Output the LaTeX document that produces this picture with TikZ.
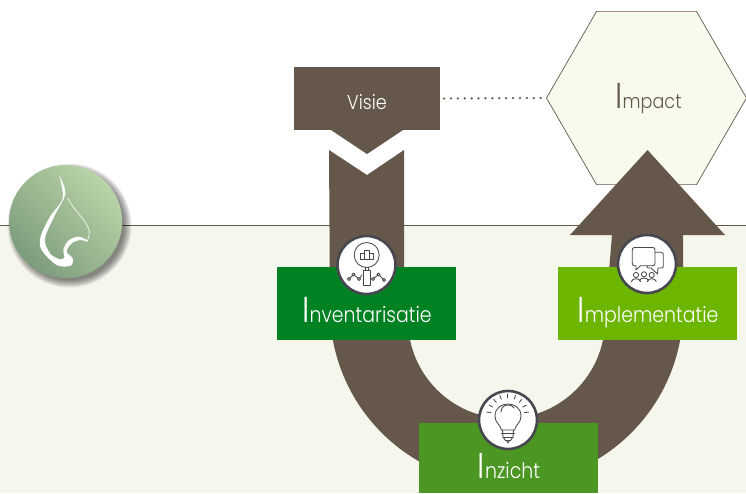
\documentclass[tikz,border=0pt]{standalone}
\usepackage{fontspec}
\setmainfont[FakeStretch=0.88,UprightFont=* Light]{Poppins}
\usetikzlibrary{shapes.geometric}
\definecolor{brn}{HTML}{65574A}
\definecolor{pale}{HTML}{F5F6EC}
\definecolor{hexf}{HTML}{F7FAED}
\definecolor{ink}{HTML}{47474F}
\definecolor{gA}{HTML}{008223}
\definecolor{gB}{HTML}{6DB600}
\definecolor{gC}{HTML}{4C9724}
\definecolor{logoA}{RGB}{125,155,125}
\definecolor{logoB}{RGB}{186,212,168}
\newcommand{\bigI}{{\fontsize{36}{36}\selectfont I}}
\tikzset{
  x=1pt,y=-1pt,
  label/.style={anchor=base,inner sep=0pt,text=white,font=\fontsize{21.5}{24}\selectfont},
  badge/.style={circle,draw=ink,line width=2.6pt,fill=white,minimum size=58pt,inner sep=0pt},
  icon/.style={draw=ink,line width=0.85pt,line cap=round,line join=round},
}
\begin{document}
\begin{tikzpicture}
\useasboundingbox (0,0) rectangle (746,493);
\fill[white] (0,0) rectangle (746,225);
\fill[pale] (0,225) rectangle (746,493);
\coordinate (hl) at (0,225); \coordinate (hr) at (746,225);
\draw[brn,line width=0.8pt] (hl) -- (hr);
% impact hexagon
\node[regular polygon,regular polygon sides=6,draw=brn,fill=hexf,line width=0.7pt,minimum size=200pt,inner sep=0pt] (impact) at (646.5,98) {};
\node[label,text=brn,font=\fontsize{20}{24}\selectfont] (impacttext) at (648.5,108) {\bigI mpact};
% U arrow
\fill[brn] (329,150) -- (367,175) -- (404,150) -- (404,300) -- (408,320)
  arc[start angle=180,delta angle=180,radius=98.5pt]
  -- (612,235) -- (570,235) -- (647.5,150) -- (725,235) -- (683,235) -- (683,308)
  arc[start angle=0,delta angle=-180,radius=176.5pt]
  -- cycle;
% visie
\fill[brn] (294,67) rectangle (440,130);
\fill[brn] (331,130) -- (367,154) -- (403,130) -- cycle;
\node[minimum width=146pt,minimum height=63pt,inner sep=0pt,outer sep=0pt] (visie) at (367,98.5) {};
\node[label,font=\fontsize{20}{24}\selectfont] (visietext) at (367,109) {Visie};
\draw[brn,line width=2.4pt,line cap=round,dash pattern=on 0.1pt off 6.8pt,shorten >=4pt,shorten <=4pt] (visie.east) -- (impact.west);
% phases
\fill[gA] (277,267) rectangle (456,340);
\node[label] (inv) at (367,322) {\bigI nventarisatie};
\fill[gB] (558,267) rectangle (737,340);
\node[label] (imp) at (648,322) {\bigI mplementatie};
\fill[gC] (419,423) rectangle (598,493);
\node[label] (inz) at (509,478) {\bigI nzicht};
% badges
\node[badge] (b1) at (366.5,265) {};
\node[badge] (b2) at (647,264) {};
\node[badge] (b3) at (508,420) {};
% icon 1: magnifier
\draw[icon] (366.7,255) circle[radius=12.5pt];
\draw[icon] (360,259) rectangle (364.5,253);
\draw[icon] (364.5,259) rectangle (369,250);
\draw[icon] (369,259) rectangle (373.5,253);
\draw[icon] (365,267.5) -- (365,270) (368.5,267.5) -- (368.5,270);
\draw[icon] (363.5,270) rectangle (370,285.5);
\draw[icon] (349,279) -- (353.5,274.5) -- (359,279) -- (362,275);
\draw[icon] (373,279) -- (378.5,274.5) -- (384,280);
\foreach \px/\py in {349/279,353.5/274.5,359/279,373/279,378.5/274.5,384/280}
  \draw[icon,fill=white] (\px,\py) circle[radius=1.5pt];
% icon 2: bubbles
\draw[icon] (634.5,247.5) -- (652.5,247.5) .. controls (654.5,247.5) and (655,248.5) .. (655,250) -- (655,263) .. controls (655,265) and (654.5,265.7) .. (652.5,265.7) -- (640.5,265.7) -- (636,270) -- (636,265.7) -- (634.5,265.7) .. controls (633,265.7) and (632.3,265) .. (632.3,263) -- (632.3,250) .. controls (632.3,248.5) and (633,247.5) .. (634.5,247.5) -- cycle;
\draw[icon] (655,252.3) -- (661.5,252.3) .. controls (662.8,252.3) and (663.3,253) .. (663.3,254) -- (663.3,266) .. controls (663.3,267.5) and (662.8,268) .. (661.5,268) -- (658,268) -- (657.5,274) -- (651,268) -- (648,268) -- (646.7,266);
\foreach \hx/\hy in {636/275,644/274.3,651.7/275}{
  \draw[icon] (\hx,\hy) circle[radius=2.6pt];
  \draw[icon] (\hx-4.5,\hy+6.5) .. controls (\hx-4,\hy+2.8) and (\hx+4,\hy+2.8) .. (\hx+4.5,\hy+6.5);
}
% icon 3: bulb
\draw[icon] (501.5,430) .. controls (500,424) and (495,423) .. (495,416) .. controls (495,400) and (521,400) .. (521,416) .. controls (521,423) and (516,424) .. (514.5,430) -- cycle;
\draw[icon] (501,412) .. controls (501,406) and (506,405) .. (508,405) .. controls (511,405) and (513,406) .. (514,408);
\draw[icon] (501.5,433.5) -- (514.5,433.5);
\draw[icon] (502.5,430) -- (503,437) -- (505.5,440.5) -- (510.5,440.5) -- (513,437) -- (513.5,430);
\draw[icon] (503,437) -- (513,437);
\draw[icon] (506.5,440.5) -- (508,443) -- (509.5,440.5);
\foreach \a in {172,152,132,112,90,68,48,28,8}
  \draw[icon] ([shift={(\a:17pt)}]507.7,415) -- ([shift={(\a:21pt)}]507.7,415);
% logo
\foreach \r in {62,61,...,55}
  \fill[black,opacity=0.07] (69.5,225.5) circle[radius=\r pt];
\shade[top color=logoA,bottom color=logoB,shading angle=135] (65.6,221.6) circle[radius=56.5pt];
\begin{scope}[x=0.3333pt,y=-0.3333pt,yshift=-150pt]
\fill[white] plot[smooth,tension=0.55] coordinates {(178,77) (196,130) (165,195) (135,265) (150,310) (180,328) (193,322) (190,300) (205,272) (235,260) (260,270) (263,275) (240,270) (215,280) (200,305) (218,325) (212,347) (170,345) (125,300) (122,260) (150,200) (188,145) (178,77)} -- cycle;
\draw[white,line width=0.6pt] plot[smooth] coordinates {(203,145) (225,178) (255,215) (268,245) (262,273)};
\end{scope}
\end{tikzpicture}
\end{document}
